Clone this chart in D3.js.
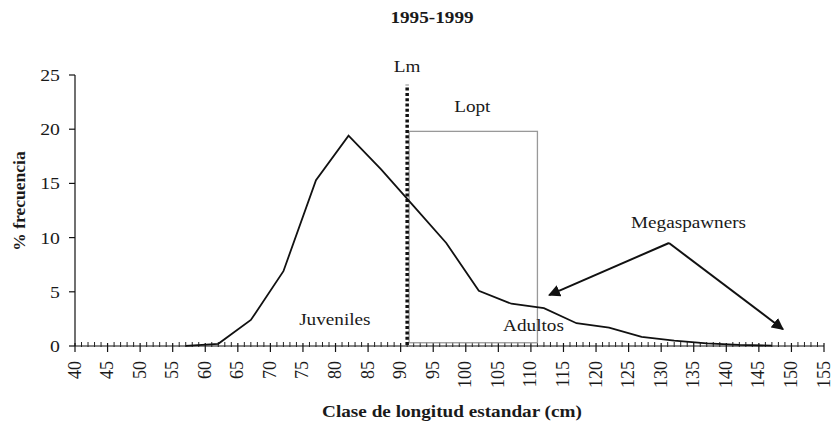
<!DOCTYPE html>
<html lang="es">
<head>
    <meta charset="UTF-8">
    <title>1995-1999</title>
    <style>
        body {
            margin: 0;
            background-color: #fff;
        }

        #chart {
            font-family: "Liberation Serif", Tinos, "Times New Roman", "DejaVu Serif", serif;
        }

        #chart text {
            fill: #1a1a1a;
        }

        .curve {
            fill: none;
            stroke: #111;
            stroke-width: 1.8px;
        }

        .lopt {
            fill: none;
            stroke: #999;
            stroke-width: 1.3px;
        }

        .lm {
            stroke: #111;
            stroke-width: 3.5px;
            stroke-dasharray: 3 2.3;
        }

        .arrow {
            stroke: #111;
            stroke-width: 2px;
            fill: none;
        }
    </style>
</head>
<body>
    <svg id="chart" width="836" height="428"></svg>

    <script src="https://cdn.jsdelivr.net/npm/d3@7/dist/d3.min.js"></script>
    <script>
        // clase de longitud (cm) y % frecuencia
        const longitud = [57, 62, 67, 72, 77, 82, 87, 92, 97, 102, 107, 112, 117, 122, 127, 132, 137, 142, 147];
        const frecuencia = [0.02, 0.2, 2.4, 6.9, 15.3, 19.4, 16.3, 12.9, 9.5, 5.1, 3.9, 3.5, 2.1, 1.7, 0.85, 0.5, 0.25, 0.1, 0.03];

        const xTicks = d3.range(40, 156, 5);
        const yTicks = [0, 5, 10, 15, 20, 25];

        // marcas de referencia
        const lm = 91;
        const lmTop = 24.1;
        const lopt = [91.3, 111];   // limites x del rectangulo
        const loptY = [0.3, 19.8];

        // flechas megaspawners: vertice y puntas
        const apex = [131.2, 9.5];
        const arrowTips = [[112.8, 4.7], [148.7, 1.55]];

        const labels = [
            { text: "Lm", x: 91, y: 25.3 },
            { text: "Lopt", x: 101, y: 21.6 },
            { text: "Megaspawners", x: 134.2, y: 10.9 },
            { text: "Juveniles", x: 79.9, y: 1.9 },
            { text: "Adultos", x: 110.4, y: 1.35 }
        ];

        const svg = d3.select("#chart");
        const stretch = 1.13; // el texto horizontal sale algo ensanchado

        const x = d3.scaleLinear().domain([40, 155]).range([75, 824]);
        const y = d3.scaleLinear().domain([0, 25]).range([346, 75]);

        // titulo
        svg.append("text")
            .attr("transform", `translate(432,23) scale(${stretch},1)`)
            .attr("text-anchor", "middle")
            .style("font-size", "17px")
            .style("font-weight", "bold")
            .text("1995-1999");

        // eje y
        svg.append("line")
            .attr("x1", x(40)).attr("x2", x(40))
            .attr("y1", y(0)).attr("y2", y(25))
            .attr("stroke", "#111").attr("stroke-width", 1.2);

        svg.selectAll(".ytick")
            .data(yTicks)
            .enter()
            .append("line")
            .attr("class", "ytick")
            .attr("x1", x(40) - 6).attr("x2", x(40))
            .attr("y1", d => y(d)).attr("y2", d => y(d))
            .attr("stroke", "#111").attr("stroke-width", 1.2);

        svg.selectAll(".ylab")
            .data(yTicks)
            .enter()
            .append("text")
            .attr("class", "ylab")
            .attr("transform", d => `translate(60,${y(d) + 6}) scale(${stretch},1)`)
            .attr("text-anchor", "end")
            .style("font-size", "17.5px")
            .text(d => d);

        // eje x con marcas menores cada 1 cm
        svg.append("line")
            .attr("x1", x(40)).attr("x2", x(155))
            .attr("y1", y(0)).attr("y2", y(0))
            .attr("stroke", "#111").attr("stroke-width", 1.2);

        svg.selectAll(".minor")
            .data(d3.range(40, 156).filter(d => d % 5 !== 0))
            .enter()
            .append("line")
            .attr("class", "minor")
            .attr("x1", d => x(d)).attr("x2", d => x(d))
            .attr("y1", y(0) - 4).attr("y2", y(0) + 1)
            .attr("stroke", "#222").attr("stroke-width", 1);

        svg.selectAll(".major")
            .data(xTicks)
            .enter()
            .append("line")
            .attr("class", "major")
            .attr("x1", d => x(d)).attr("x2", d => x(d))
            .attr("y1", y(0) - 3).attr("y2", y(0) + 6)
            .attr("stroke", "#111").attr("stroke-width", 1.2);

        svg.selectAll(".xlab")
            .data(xTicks)
            .enter()
            .append("text")
            .attr("class", "xlab")
            .attr("transform", d => `translate(${x(d) + 5.5},361) rotate(-90)`)
            .attr("text-anchor", "end")
            .style("font-size", "18px")
            .text(d => d);

        // titulos de ejes
        svg.append("text")
            .attr("transform", `translate(452,417) scale(${stretch},1)`)
            .attr("text-anchor", "middle")
            .style("font-size", "17px")
            .style("font-weight", "bold")
            .text("Clase de longitud estandar (cm)");

        svg.append("text")
            .attr("transform", "translate(25,201) rotate(-90)")
            .attr("text-anchor", "middle")
            .style("font-size", "17.5px")
            .style("font-weight", "bold")
            .text("% frecuencia");

        // rectangulo Lopt
        svg.append("rect")
            .attr("class", "lopt")
            .attr("x", x(lopt[0]))
            .attr("y", y(loptY[1]))
            .attr("width", x(lopt[1]) - x(lopt[0]))
            .attr("height", y(loptY[0]) - y(loptY[1]));

        // curva de frecuencia
        const line = d3.line()
            .x((d, i) => x(longitud[i]))
            .y(d => y(d));

        svg.append("path")
            .datum(frecuencia)
            .attr("class", "curve")
            .attr("d", line);

        // Lm punteada
        svg.append("line")
            .attr("class", "lm")
            .attr("x1", x(lm)).attr("x2", x(lm))
            .attr("y1", y(0) - 1).attr("y2", y(lmTop));

        // flechas
        svg.append("defs").append("marker")
            .attr("id", "head")
            .attr("viewBox", "0 0 10 10")
            .attr("refX", 9).attr("refY", 5)
            .attr("markerWidth", 6).attr("markerHeight", 6)
            .attr("markerUnits", "strokeWidth")
            .attr("orient", "auto")
            .append("path")
            .attr("d", "M0,0 L10,5 L0,10 Z")
            .attr("fill", "#111");

        svg.selectAll(".arrow")
            .data(arrowTips)
            .enter()
            .append("line")
            .attr("class", "arrow")
            .attr("x1", x(apex[0])).attr("y1", y(apex[1]))
            .attr("x2", d => x(d[0])).attr("y2", d => y(d[1]))
            .attr("marker-end", "url(#head)");

        // etiquetas
        svg.selectAll(".note")
            .data(labels)
            .enter()
            .append("text")
            .attr("class", "note")
            .attr("transform", d => `translate(${x(d.x)},${y(d.y)}) scale(${stretch},1)`)
            .attr("text-anchor", "middle")
            .style("font-size", "17px")
            .text(d => d.text);
    </script>
</body>
</html>
